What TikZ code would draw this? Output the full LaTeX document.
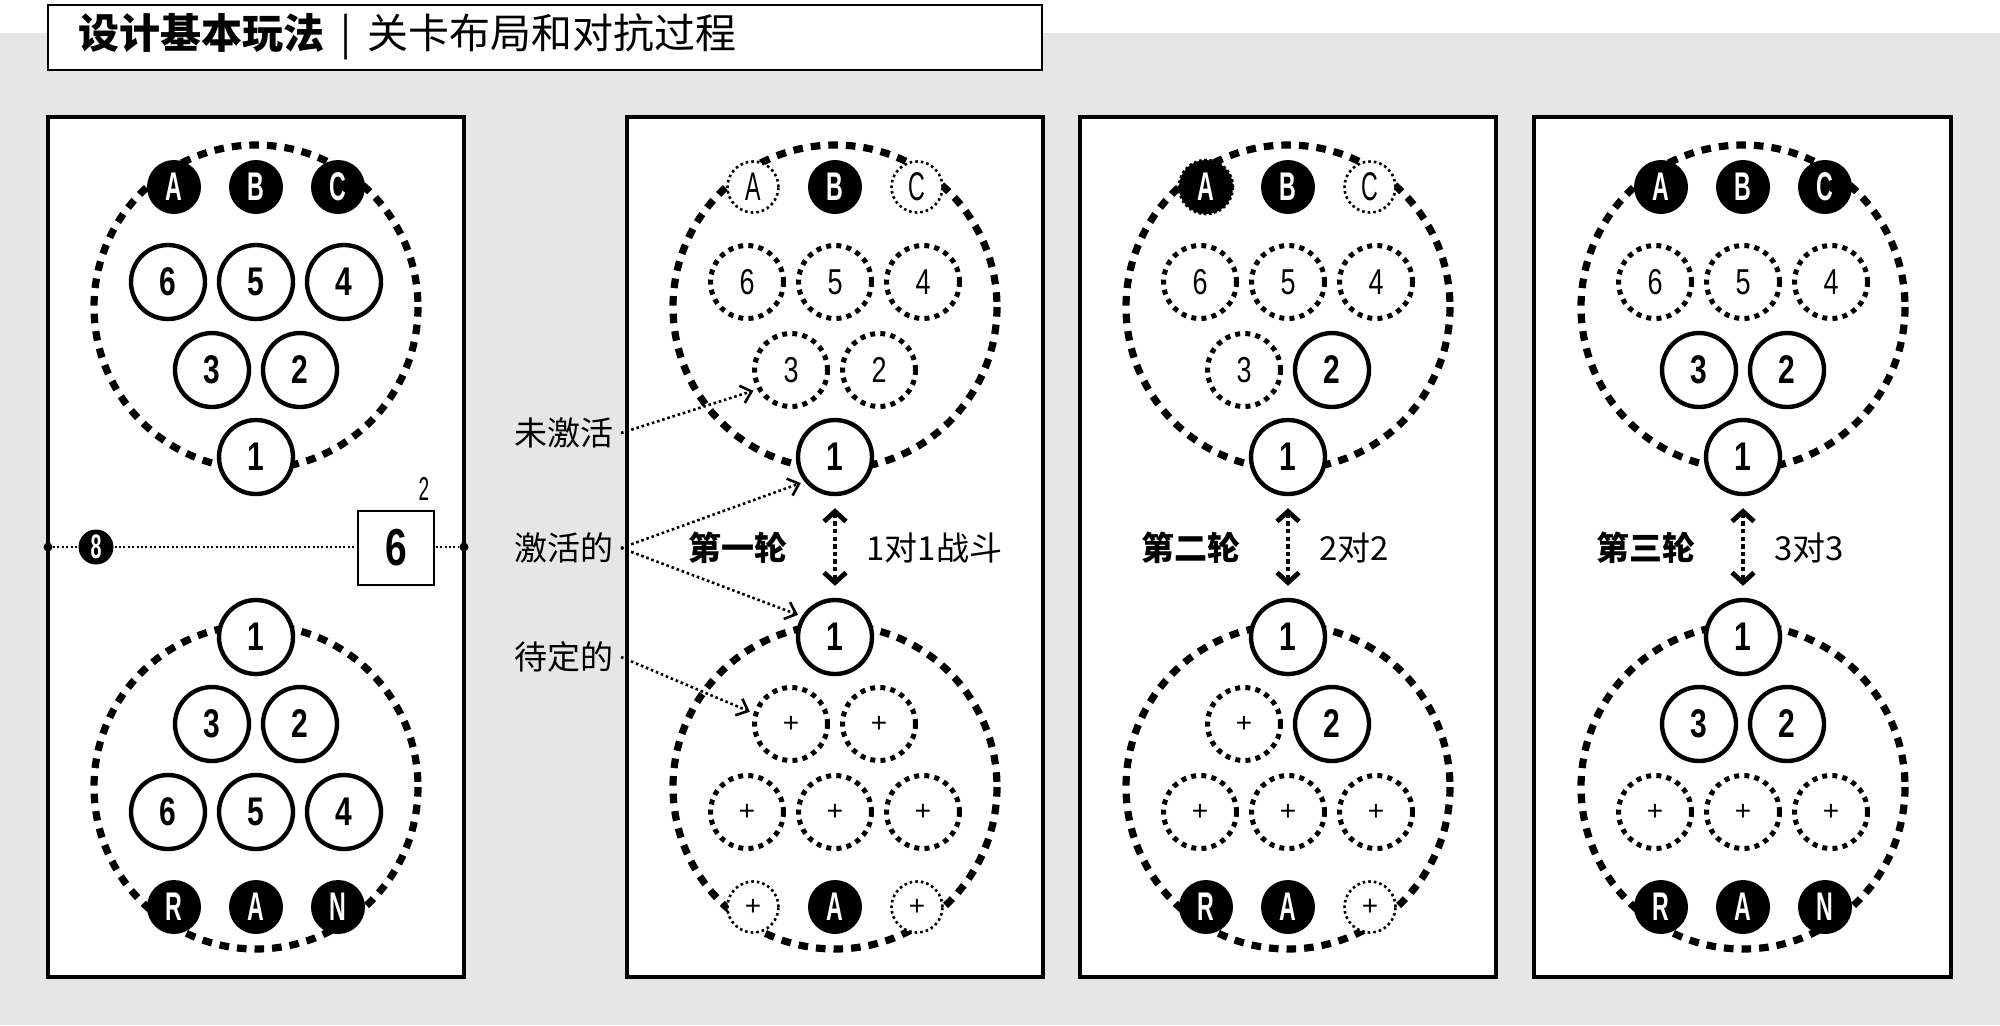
\documentclass[tikz,border=0pt]{standalone}
\usepackage{fontspec}
\usepackage{xcolor}
\usepackage{tikz}
\usetikzlibrary{arrows.meta}
\newfontfamily\cjk{Noto Sans CJK SC}
\newfontfamily\cond{Liberation Sans}[FakeStretch=0.75]
\newfontfamily\narrow{Liberation Sans}[FakeStretch=0.58]
\newfontfamily\plain{Liberation Sans}
\definecolor{bggray}{RGB}{230,230,230}

\begin{document}
\begin{tikzpicture}[x=0.5pt,y=-0.5pt,
	panel/.style={draw, line width=2pt, fill=white},
	ring/.style={line width=3.6pt, dash pattern=on 4.8pt off 4pt},
	hero/.style={circle, draw, line width=2.2pt, fill=white, minimum size=37pt, inner sep=0pt, font=\cond\bfseries\fontsize{20}{20}\selectfont},
	sleeper/.style={circle, draw, line width=2.5pt, dash pattern=on 2.5pt off 2.6pt, fill=white, minimum size=36.5pt, inner sep=0pt, font=\cond\fontsize{18}{20}\selectfont},
	slot/.style={sleeper, font=\plain\fontsize{14}{14}\selectfont},
	token/.style={circle, fill=black, text=white, minimum size=27pt, inner sep=0pt, font=\narrow\bfseries\fontsize{20}{20}\selectfont},
	fuzzy/.style={token, draw, line width=1.3pt, dash pattern=on 1.3pt off 1.3pt},
	ghost/.style={circle, draw, line width=1.3pt, dash pattern=on 1.3pt off 1.5pt, fill=white, minimum size=25.5pt, inner sep=0pt, font=\narrow\fontsize{20}{20}\selectfont},
	spare/.style={ghost, font=\plain\fontsize{14}{14}\selectfont},
	tag/.style={font=\cjk\fontsize{16.5}{18}\selectfont},
	roundtag/.style={font=\cjk\bfseries\fontsize{16.5}{18}\selectfont, inner sep=0pt, anchor=east},
	vstag/.style={tag, inner sep=0pt, anchor=west},
	pointer/.style={line width=1.3pt, dash pattern=on 1.3pt off 1.4pt, -{Straight Barb[length=5pt,width=9pt]}, shorten >=2pt},
	duel/.style={line width=2.4pt, dash pattern=on 2.2pt off 1.6pt, {Straight Barb[length=5pt,width=11pt]}-{Straight Barb[length=5pt,width=11pt]}, shorten <=6pt, shorten >=6pt},
	net/.style={line width=1pt, dash pattern=on 1pt off 1.2pt}]

	% background and title
	\fill[white] (0,0) rectangle (2000,33);
	\fill[bggray] (0,33) rectangle (2000,1025);
	\useasboundingbox (0,0) rectangle (2000,1025);
	\draw[line width=1.3pt, fill=white] (48,5) rectangle (1042,70);
	\node[anchor=west, inner sep=0pt, font=\cjk\fontsize{20.5}{22}\selectfont] (title) at (78,37) {\textbf{设计基本玩法}\hspace{8pt}|\hspace{8pt}关卡布局和对抗过程};

	% panels
	\draw[panel] (48,117) rectangle (464,977);
	\draw[panel] (627,117) rectangle (1043,977);
	\draw[panel] (1080,117) rectangle (1496,977);
	\draw[panel] (1534,117) rectangle (1951,977);

	\draw[ring] (256,307) circle[radius=162];
	\draw[ring] (256,787) circle[radius=162];
	\draw[ring] (835,307) circle[radius=162];
	\draw[ring] (835,787) circle[radius=162];
	\draw[ring] (1288,307) circle[radius=162];
	\draw[ring] (1288,787) circle[radius=162];
	\draw[ring] (1743,307) circle[radius=162];
	\draw[ring] (1743,787) circle[radius=162];

	% panel 1: layout
	\node[token] (k1tA) at (174,187) {A};
	\node[token] (k1tB) at (256,187) {B};
	\node[token] (k1tC) at (338,187) {C};
	\node[hero] (k1t6) at (168,282) {6};
	\node[hero] (k1t5) at (256,282) {5};
	\node[hero] (k1t4) at (344,282) {4};
	\node[hero] (k1t3) at (212,370) {3};
	\node[hero] (k1t2) at (300,370) {2};
	\node[hero] (k1t1) at (256,457) {1};

	\node[circle, fill, inner sep=0pt, minimum size=4.5pt] (netL) at (48,547) {};
	\node[circle, fill, inner sep=0pt, minimum size=4.5pt] (netR) at (464,547) {};
	\draw[net] (netL) -- (netR);
	\node[token, minimum size=17.5pt, font=\narrow\bfseries\fontsize{17}{17}\selectfont] (eight) at (96,547) {8};
	\node[draw, line width=0.8pt, fill=white, minimum width=38pt, minimum height=37pt, font=\cond\bfseries\fontsize{26}{26}\selectfont] (score) at (396,548) {6};
	\node[font=\narrow\fontsize{16.5}{17}\selectfont] (count) at (424,489) {2};

	\node[hero] (k1b1) at (256,637) {1};
	\node[hero] (k1b3) at (212,724) {3};
	\node[hero] (k1b2) at (300,724) {2};
	\node[hero] (k1b6) at (168,812) {6};
	\node[hero] (k1b5) at (256,812) {5};
	\node[hero] (k1b4) at (344,812) {4};
	\node[token] (k1bR) at (174,907) {R};
	\node[token] (k1bA) at (256,907) {A};
	\node[token] (k1bN) at (338,907) {N};

	% panel 2: first round
	\node[ghost] (k2tA) at (753,187) {A};
	\node[token] (k2tB) at (835,187) {B};
	\node[ghost] (k2tC) at (917,187) {C};
	\node[sleeper] (k2t6) at (747,282) {6};
	\node[sleeper] (k2t5) at (835,282) {5};
	\node[sleeper] (k2t4) at (923,282) {4};
	\node[sleeper] (k2t3) at (791,370) {3};
	\node[sleeper] (k2t2) at (879,370) {2};
	\node[hero] (k2t1) at (835,457) {1};

	\node[hero] (k2b1) at (835,637) {1};
	\node[slot] (k2b3) at (791,724) {+};
	\node[slot] (k2b2) at (879,724) {+};
	\node[slot] (k2b6) at (747,812) {+};
	\node[slot] (k2b5) at (835,812) {+};
	\node[slot] (k2b4) at (923,812) {+};
	\node[spare] (k2bR) at (753,907) {+};
	\node[token] (k2bA) at (835,907) {A};
	\node[spare] (k2bN) at (917,907) {+};

	\draw[duel] (k2t1) -- (k2b1);
	\node[roundtag] (round1) at (788,548) {第一轮};
	\node[vstag] (vs1) at (866,548) {1对1战斗};

	% panel 3: second round
	\node[fuzzy] (k3tA) at (1206,187) {A};
	\node[token] (k3tB) at (1288,187) {B};
	\node[ghost] (k3tC) at (1370,187) {C};
	\node[sleeper] (k3t6) at (1200,282) {6};
	\node[sleeper] (k3t5) at (1288,282) {5};
	\node[sleeper] (k3t4) at (1376,282) {4};
	\node[sleeper] (k3t3) at (1244,370) {3};
	\node[hero] (k3t2) at (1332,370) {2};
	\node[hero] (k3t1) at (1288,457) {1};

	\node[hero] (k3b1) at (1288,637) {1};
	\node[slot] (k3b3) at (1244,724) {+};
	\node[hero] (k3b2) at (1332,724) {2};
	\node[slot] (k3b6) at (1200,812) {+};
	\node[slot] (k3b5) at (1288,812) {+};
	\node[slot] (k3b4) at (1376,812) {+};
	\node[token] (k3bR) at (1206,907) {R};
	\node[token] (k3bA) at (1288,907) {A};
	\node[spare] (k3bN) at (1370,907) {+};

	\draw[duel] (k3t1) -- (k3b1);
	\node[roundtag] (round2) at (1241,548) {第二轮};
	\node[vstag] (vs2) at (1319,548) {2对2};

	% panel 4: third round
	\node[token] (k4tA) at (1661,187) {A};
	\node[token] (k4tB) at (1743,187) {B};
	\node[token] (k4tC) at (1825,187) {C};
	\node[sleeper] (k4t6) at (1655,282) {6};
	\node[sleeper] (k4t5) at (1743,282) {5};
	\node[sleeper] (k4t4) at (1831,282) {4};
	\node[hero] (k4t3) at (1699,370) {3};
	\node[hero] (k4t2) at (1787,370) {2};
	\node[hero] (k4t1) at (1743,457) {1};

	\node[hero] (k4b1) at (1743,637) {1};
	\node[hero] (k4b3) at (1699,724) {3};
	\node[hero] (k4b2) at (1787,724) {2};
	\node[slot] (k4b6) at (1655,812) {+};
	\node[slot] (k4b5) at (1743,812) {+};
	\node[slot] (k4b4) at (1831,812) {+};
	\node[token] (k4bR) at (1661,907) {R};
	\node[token] (k4bA) at (1743,907) {A};
	\node[token] (k4bN) at (1825,907) {N};

	\draw[duel] (k4t1) -- (k4b1);
	\node[roundtag] (round3) at (1696,548) {第三轮};
	\node[vstag] (vs3) at (1774,548) {3对3};

	% legend
	\node[tag, anchor=east] (idle) at (621,433) {未激活};
	\node[tag, anchor=east] (live) at (621,548) {激活的};
	\node[tag, anchor=east] (wait) at (621,657) {待定的};
	\draw[pointer] (idle.east) -- (k2t3.210);
	\draw[pointer] (live.east) -- (k2t1.219);
	\draw[pointer] (live.east) -- (k2b1.148);
	\draw[pointer] (wait.east) -- (k2b3.164);
\end{tikzpicture}
\end{document}
